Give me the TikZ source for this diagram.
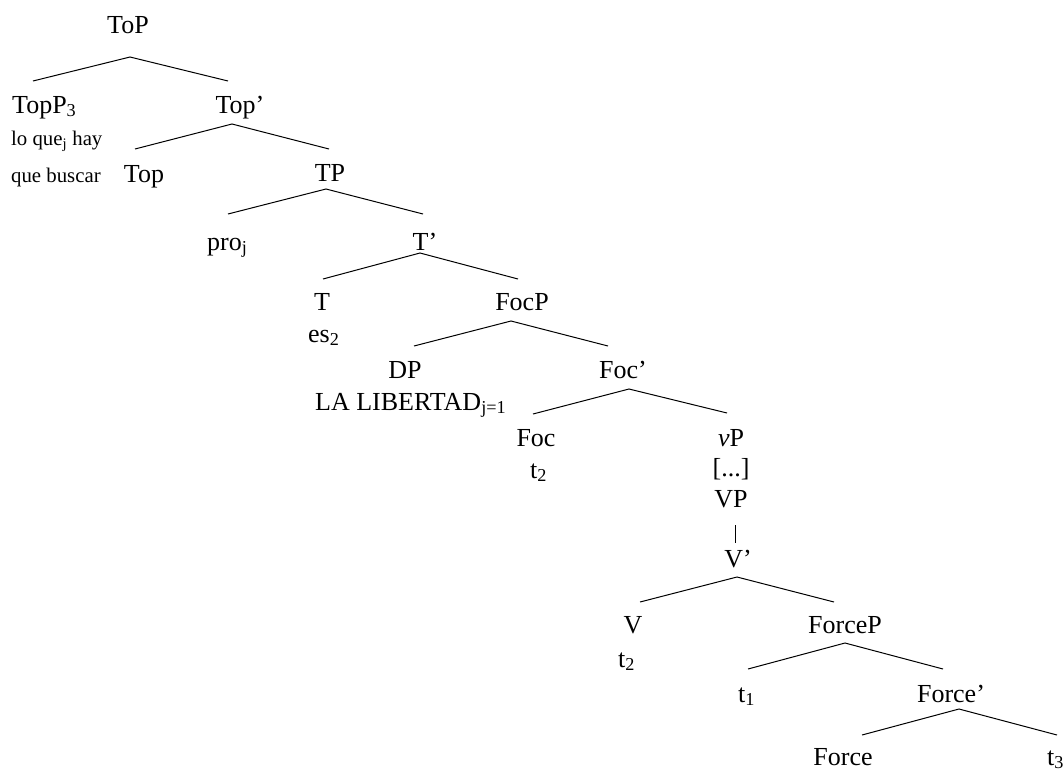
\documentclass[tikz,border=0pt]{standalone}
\usepackage{fontspec}
\setmainfont{Liberation Serif}
\begin{document}
\begin{tikzpicture}[x=1pt,y=-1pt,
  lbl/.style={inner sep=0pt,anchor=base,font=\fontsize{26}{30}\selectfont},
  lblw/.style={lbl,anchor=base west},
  sml/.style={inner sep=0pt,anchor=base west,font=\fontsize{20.8}{24}\selectfont},
  branch/.style={line width=1pt}]
\useasboundingbox (0,0) rectangle (1064,769);
% nodes
\node[lbl] (ToP) at (128,33) {ToP};
\node[lblw] (TopP) at (12,113) {TopP\textsubscript{3}};
\node[lbl] (Topbar) at (240,113) {Top’};
\node[sml] (loque) at (11,145) {lo que\textsubscript{j} hay};
\node[sml] (quebuscar) at (11,182) {que buscar};
\node[lbl] (Top) at (144,182) {Top};
\node[lbl] (TP) at (330,181) {TP};
\node[lblw] (pro) at (207,250) {pro\textsubscript{j}};
\node[lbl] (Tbar) at (425,250) {T’};
\node[lbl] (T) at (322,310) {T};
\node[lbl] (FocP) at (522,310) {FocP};
\node[lblw] (es) at (308,342) {es\textsubscript{2}};
\node[lbl] (DP) at (405,378) {DP};
\node[lblw] (LALIB) at (315,410) {LA LIBERTAD\textsubscript{j=1}};
\node[lbl] (Focbar) at (623,378) {Foc’};
\node[lbl] (Foc) at (536,446) {Foc};
\node[lblw] (ttwoa) at (530,478) {t\textsubscript{2}};
\node[lbl] (vP) at (731,446) {\textit{v}P};
\node[lbl] (dots) at (731,476) {[...]};
\node[lbl] (VP) at (731,507) {VP};
\node[lbl] (Vbar) at (738,567) {V’};
\node[lbl] (V) at (633,633) {V};
\node[lblw] (ttwob) at (618,667) {t\textsubscript{2}};
\node[lbl] (ForceP) at (845,633) {ForceP};
\node[lblw] (tone) at (738,702) {t\textsubscript{1}};
\node[lbl] (Forcebar) at (951,702) {Force’};
\node[lbl] (Force) at (843,765) {Force};
\node[lblw] (tthree) at (1047,765) {t\textsubscript{3}};
% branches
\draw[branch] ([shift={(21,-32)}]TopP.base west) -- ([shift={(2,24)}]ToP.base) -- ([shift={(-12,-32)}]Topbar.base);
\draw[branch] ([shift={(-9,-33)}]Top.base) -- ([shift={(-8,11)}]Topbar.base) -- ([shift={(-1,-32)}]TP.base);
\draw[branch] ([shift={(21,-36)}]pro.base west) -- ([shift={(-4,8)}]TP.base) -- ([shift={(-2,-36)}]Tbar.base);
\draw[branch] ([shift={(1,-31)}]T.base) -- ([shift={(-5,3)}]Tbar.base) -- ([shift={(-4,-31)}]FocP.base);
\draw[branch] ([shift={(9,-32)}]DP.base) -- ([shift={(-11,11)}]FocP.base) -- ([shift={(-15,-32)}]Focbar.base);
\draw[branch] ([shift={(-3,-32)}]Foc.base) -- ([shift={(6,11)}]Focbar.base) -- ([shift={(-4,-33)}]vP.base);
\draw[branch] ([shift={(4,18)}]VP.base) -- ([shift={(-3,-24)}]Vbar.base);
\draw[branch] ([shift={(7,-31)}]V.base) -- ([shift={(-1,10)}]Vbar.base) -- ([shift={(-11,-31)}]ForceP.base);
\draw[branch] ([shift={(10,-33)}]tone.base west) -- ([shift={(0,10)}]ForceP.base) -- ([shift={(-8,-33)}]Forcebar.base);
\draw[branch] ([shift={(19,-30)}]Force.base) -- ([shift={(8,7)}]Forcebar.base) -- ([shift={(10,-30)}]tthree.base west);
\end{tikzpicture}
\end{document}
